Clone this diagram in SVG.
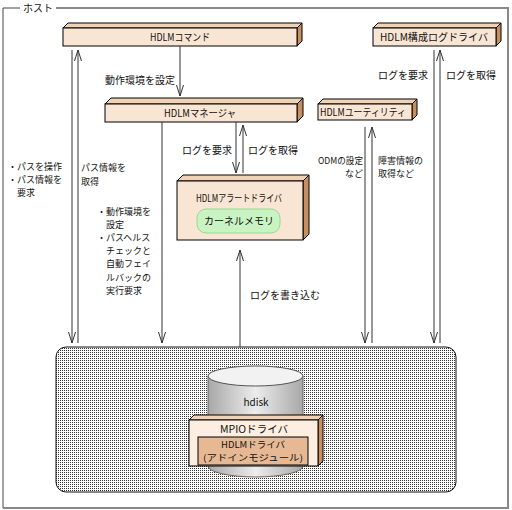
<svg xmlns="http://www.w3.org/2000/svg" width="512" height="510" viewBox="0 0 512 510">
<style>
text{font-family:"Noto Sans CJK JP","Noto Sans",sans-serif;font-size:10px;fill:#111}
.ml{font-size:9px}
.m{text-anchor:middle}
.e{text-anchor:end}
.front{fill:#f9e5d3;stroke:#000;stroke-width:1}
.top{fill:#f0d2b4;stroke:#000;stroke-width:1}
.side{fill:#c98e5e;stroke:#000;stroke-width:1}
.ln{fill:none;stroke:#333;stroke-width:1}
</style>
<defs>
<marker id="ah" viewBox="-12 -5 13 10" refX="0" refY="0" markerWidth="13" markerHeight="10" markerUnits="userSpaceOnUse" orient="auto">
<path d="M-11,-3.5 L0,0 L-11,3.5" fill="none" stroke="#333" stroke-width="1"/>
</marker>
<pattern id="dots" width="2" height="2" patternUnits="userSpaceOnUse">
<rect width="2" height="2" fill="#fff"/>
<rect width="1" height="1" fill="#333"/>
</pattern>
<linearGradient id="cyl" x1="0" y1="0" x2="1" y2="0">
<stop offset="0" stop-color="#a8a8a8"/>
<stop offset="0.5" stop-color="#ececec"/>
<stop offset="1" stop-color="#a8a8a8"/>
</linearGradient>
</defs>
<rect width="512" height="510" fill="#fff"/>
<g id="host">
<path d="M20,8 L3,8 L3,508" fill="none" stroke="#444" stroke-width="1"/>
<path d="M56,8 L508,8 L508,508 L3,508" fill="none" stroke="#888" stroke-width="2"/>
<text x="23" y="12">ホスト</text>
</g>
<g id="hdlm-command">
<polygon class="top" points="63,28 68,23 302,23 297,28"/>
<polygon class="side" points="297,28 302,23 302,41 297,46"/>
<rect class="front" x="63" y="28" width="234" height="18"/>
<text class="m" x="180" y="41" textLength="60" lengthAdjust="spacingAndGlyphs">HDLMコマンド</text>
</g>
<g id="hdlm-config-log-driver">
<polygon class="top" points="373,28 378,23 501,23 496,28"/>
<polygon class="side" points="496,28 501,23 501,41 496,46"/>
<rect class="front" x="373" y="28" width="123" height="18"/>
<text class="m" x="434" y="41" textLength="108" lengthAdjust="spacingAndGlyphs">HDLM構成ログドライバ</text>
</g>
<g id="hdlm-manager">
<polygon class="top" points="105,104 111,98 303,98 297,104"/>
<polygon class="side" points="297,104 303,98 303,116 297,122"/>
<rect class="front" x="105" y="104" width="192" height="18"/>
<text class="m" x="200" y="117" textLength="72" lengthAdjust="spacingAndGlyphs">HDLMマネージャ</text>
</g>
<g id="hdlm-utility">
<polygon class="top" points="318,104 323,99 417,99 412,104"/>
<polygon class="side" points="412,104 417,99 417,115 412,120"/>
<rect class="front" x="318" y="104" width="94" height="16"/>
<text class="m" x="363" y="116" textLength="86" lengthAdjust="spacingAndGlyphs">HDLMユーティリティ</text>
</g>
<g id="hdlm-alert-driver">
<polygon class="top" points="177,181 183,175 309,175 303,181"/>
<polygon class="side" points="303,181 309,175 309,234 303,240"/>
<rect class="front" x="177" y="181" width="126" height="59"/>
<text class="m" x="239" y="202" textLength="86" lengthAdjust="spacingAndGlyphs">HDLMアラートドライバ</text>
<rect x="197" y="209" width="83" height="24" rx="9" fill="#c9f3c3" stroke="#9ad894" stroke-width="1"/>
<text class="m" x="239" y="225">カーネルメモリ</text>
</g>
<g id="kernel-area">
<rect x="56" y="347" width="400" height="145" rx="10" fill="url(#dots)" stroke="#111" stroke-width="1"/>
</g>
<g id="hdisk">
<path d="M208,376 L208,466 A47.5,11 0 0 0 303,466 L303,376 Z" fill="url(#cyl)" stroke="#666" stroke-width="1"/>
<ellipse cx="255.5" cy="376" rx="47.5" ry="10" fill="#f2f2f2" stroke="#555" stroke-width="1"/>
<text class="m" x="256" y="406">hdisk</text>
</g>
<g id="mpio-driver">
<polygon class="top" points="189,420 194,415 323,415 318,420"/>
<polygon class="side" points="318,420 323,415 323,461 318,466"/>
<rect x="189" y="420" width="129" height="46" fill="#fdeee2" stroke="#000" stroke-width="1"/>
<text class="m" x="254" y="433" textLength="68" lengthAdjust="spacingAndGlyphs">MPIOドライバ</text>
</g>
<g id="hdlm-driver">
<rect x="198" y="437" width="110" height="28" fill="#e6b894" stroke="#000" stroke-width="1"/>
<text class="m ml" y="448"><tspan x="253" textLength="64" lengthAdjust="spacingAndGlyphs">HDLMドライバ</tspan><tspan x="253" dy="13.1" textLength="100" lengthAdjust="spacingAndGlyphs">(アドインモジュール)</tspan></text>
</g>
<g id="connectors">
<line class="ln" x1="72" y1="50" x2="72" y2="343" marker-end="url(#ah)"/>
<line class="ln" x1="78" y1="343" x2="78" y2="50" marker-end="url(#ah)"/>
<line class="ln" x1="180" y1="46" x2="180" y2="96" marker-end="url(#ah)"/>
<line class="ln" x1="162" y1="122" x2="162" y2="343" marker-end="url(#ah)"/>
<line class="ln" x1="236" y1="122" x2="236" y2="173" marker-end="url(#ah)"/>
<line class="ln" x1="243" y1="173" x2="243" y2="125" marker-end="url(#ah)"/>
<line class="ln" x1="240" y1="347" x2="240" y2="250" marker-end="url(#ah)"/>
<line class="ln" x1="365" y1="127" x2="365" y2="343" marker-end="url(#ah)"/>
<line class="ln" x1="372" y1="343" x2="372" y2="127" marker-end="url(#ah)"/>
<line class="ln" x1="434" y1="50" x2="434" y2="343" marker-end="url(#ah)"/>
<line class="ln" x1="440" y1="343" x2="440" y2="50" marker-end="url(#ah)"/>
<text class="e" x="175" y="84">動作環境を設定</text>
<text class="e" x="232" y="154">ログを要求</text>
<text x="248" y="154">ログを取得</text>
<text class="e" x="428" y="79">ログを要求</text>
<text x="446" y="79">ログを取得</text>
<text class="e ml" y="164"><tspan x="363" textLength="45" lengthAdjust="spacingAndGlyphs">ODMの設定</tspan><tspan x="363" dy="13.1">など</tspan></text>
<text class="ml" y="164"><tspan x="378">障害情報の</tspan><tspan x="378" dy="13.1">取得など</tspan></text>
<text x="250" y="299">ログを書き込む</text>
<text class="ml" y="170"><tspan x="8">・パスを操作</tspan><tspan x="8" dy="13.1">・パス情報を</tspan><tspan x="17" dy="13.1">要求</tspan></text>
<text class="ml" y="171"><tspan x="81">パス情報を</tspan><tspan x="81" dy="13.5">取得</tspan></text>
<text class="ml" y="215"><tspan x="97">・動作環境を</tspan><tspan x="106" dy="13.1">設定</tspan><tspan x="97" dy="13.1">・パスヘルス</tspan><tspan x="106" dy="13.1">チェックと</tspan><tspan x="106" dy="13.1">自動フェイ</tspan><tspan x="106" dy="13.1">ルバックの</tspan><tspan x="106" dy="13.1">実行要求</tspan></text>
</g>
</svg>
